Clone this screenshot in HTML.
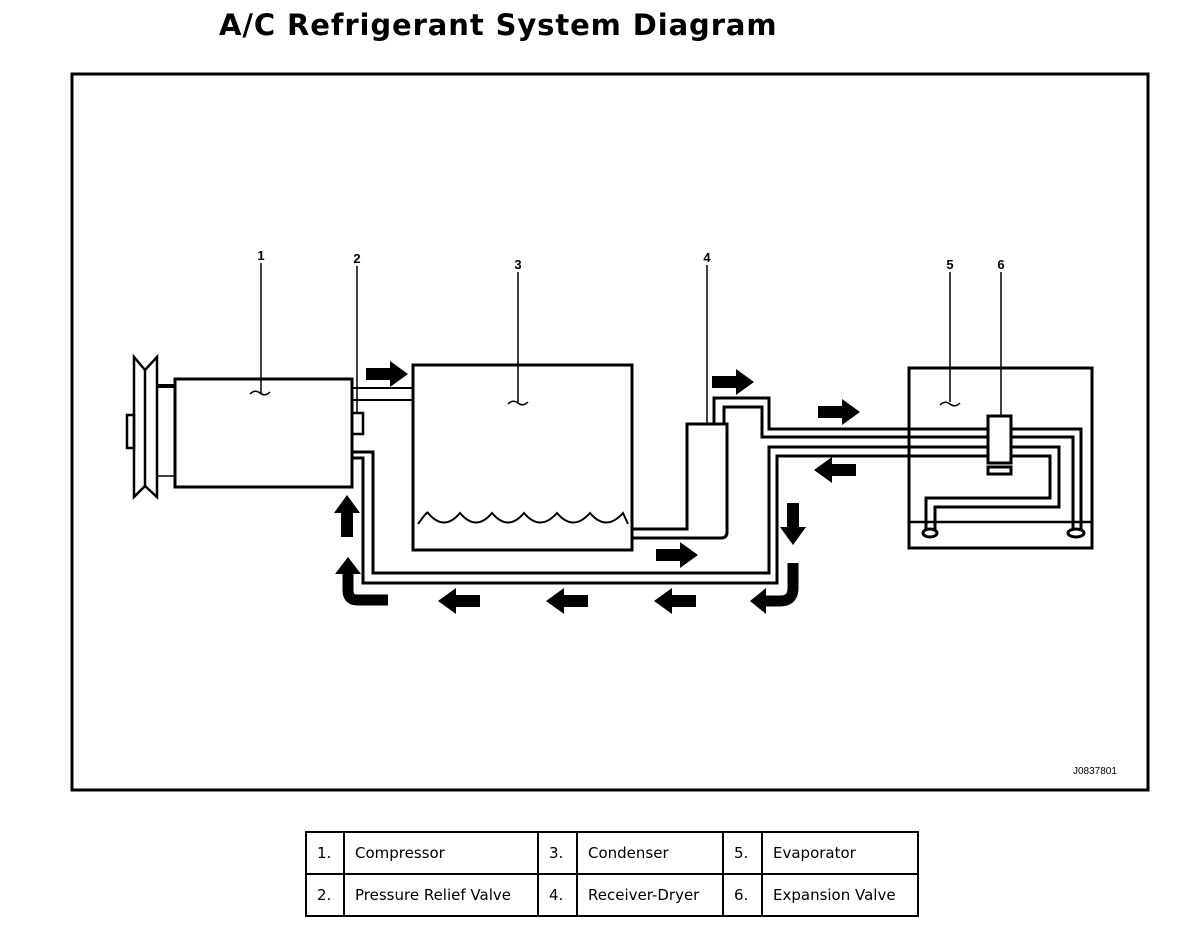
<!DOCTYPE html>
<html><head><meta charset="utf-8"><style>
body{margin:0;background:#fff;width:1200px;height:934px;overflow:hidden;position:relative;font-family:"DejaVu Sans","Liberation Sans",sans-serif}
.t{position:absolute;left:219px;top:8px;font-size:29px;font-weight:bold;letter-spacing:0.9px}
table{position:absolute;left:305px;top:831px;border-collapse:collapse;font-size:15px;table-layout:fixed;width:612px}
td{border:2px solid #000;height:40px;padding:0 0 0 10px;white-space:nowrap;overflow:hidden}
</style></head><body>
<div class="t">A/C Refrigerant System Diagram</div>
<svg width="1200" height="934" style="position:absolute;left:0;top:0" xmlns="http://www.w3.org/2000/svg">
<defs>
<path id="ar" d="M0,-6 L24,-6 L24,-13 L42,0 L24,13 L24,6 L0,6 Z" fill="#000"/>
</defs>
<rect x="72" y="74" width="1076" height="716" fill="none" stroke="#000" stroke-width="3"/>
<g fill="none" stroke="#000" stroke-width="3">
<rect x="175" y="379" width="177" height="108"/>
<rect x="352" y="413" width="11" height="21" stroke-width="2.5"/>
<path d="M157,386 H175" stroke-width="4"/>
<path d="M157,476 H175" stroke-width="1.5"/>
<path d="M134,357 L145,370 L157,357 V497 L145,486 L134,497 Z" stroke-width="2.5"/>
<path d="M145,370 V486" stroke-width="2.5"/>
<rect x="127" y="415" width="7" height="33" stroke-width="2.5"/>
<path d="M352,388 H413 M352,400 H413" stroke-width="2"/>
<rect x="413" y="365" width="219" height="185"/>
<path d="M418,524 Q428,510 428,513 Q444,532 460,513 Q476,532 492,513 Q508,532 524,513 Q540,532 557,513 Q573,532 590,513 Q606,532 623,513 L628,524" stroke-width="2"/>
<path d="M632,529 H687 V424 H727 V532 Q727,538 721,538 H632"/>
<path d="M714,424 V398 H769 V429 H1081 V530"/>
<path d="M724,424 V407 H762 V437 H1073 V530"/>
<path d="M353,452 H373 V573 H769 V447 H1059 V507 H935 V530"/>
<path d="M353,458 H363 V583 H777 V456 H1050 V498 H926 V530"/>
<rect x="909" y="368" width="183" height="180"/>
<path d="M909,522 H1092" stroke-width="2.5"/>
<ellipse cx="930" cy="533" rx="7" ry="4"/>
<ellipse cx="1076" cy="533" rx="8" ry="4"/>
<rect x="988" y="416" width="23" height="47" fill="#fff"/>
<rect x="988" y="467" width="23" height="7" fill="#fff"/>
<path d="M261,263 V393 M357,266 V413 M518,272 V402 M707,265 V424 M950,272 V402 M1001,272 V416" stroke-width="1.5"/>
<path d="M250,394 q5,-5 10,-1 q5,4 10,-1 M508,404 q5,-5 10,-1 q5,4 10,-1 M940,405 q5,-5 10,-1 q5,4 10,-1" stroke-width="1.5"/>
<path d="M793,563 V588 Q793,601 780,601 H765" stroke-width="11"/>
<path d="M388,600 H357 Q348,600 348,590 V572" stroke-width="11"/>
</g>
<path d="M750,601 L766,588 L766,614 Z"/>
<path d="M335,574 L348,557 L361,574 Z"/>
<use href="#ar" x="366" y="374"/>
<use href="#ar" x="712" y="382"/>
<use href="#ar" x="818" y="412"/>
<use href="#ar" x="656" y="555"/>
<use href="#ar" transform="translate(856,470) rotate(180)"/>
<use href="#ar" transform="translate(480,601) rotate(180)"/>
<use href="#ar" transform="translate(588,601) rotate(180)"/>
<use href="#ar" transform="translate(696,601) rotate(180)"/>
<use href="#ar" transform="translate(793,503) rotate(90)"/>
<use href="#ar" transform="translate(347,537) rotate(-90)"/>
<g font-family="Liberation Sans,sans-serif" font-weight="bold" font-size="13" text-anchor="middle">
<text x="261" y="260">1</text><text x="357" y="263">2</text><text x="518" y="269">3</text>
<text x="707" y="262">4</text><text x="950" y="269">5</text><text x="1001" y="269">6</text>
</g>
<text x="1073" y="774" font-family="Liberation Sans,sans-serif" font-size="10">J0837801</text>
</svg>
<table><colgroup><col style="width:38px"><col style="width:194px"><col style="width:39px"><col style="width:146px"><col style="width:39px"><col style="width:156px"></colgroup>
<tr><td>1.</td><td>Compressor</td><td>3.</td><td>Condenser</td><td>5.</td><td>Evaporator</td></tr>
<tr><td>2.</td><td>Pressure Relief Valve</td><td>4.</td><td>Receiver-Dryer</td><td>6.</td><td>Expansion Valve</td></tr></table>
</body></html>
